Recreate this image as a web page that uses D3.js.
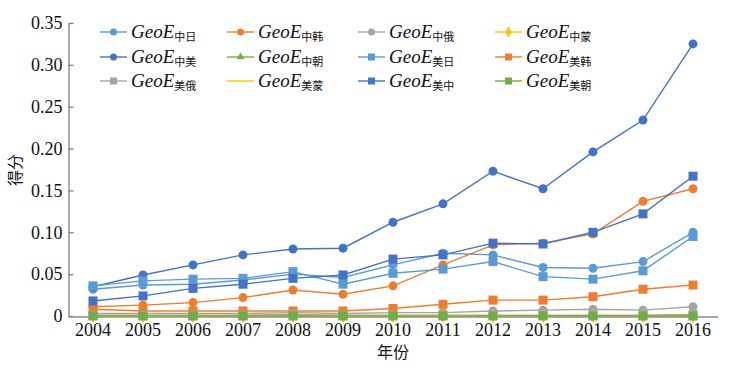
<!DOCTYPE html>
<html><head><meta charset="utf-8">
<script src="https://cdn.jsdelivr.net/npm/d3@7/dist/d3.min.js"></script>
<style>
body{margin:0;background:#fff;}
svg{display:block;}
</style></head>
<body>
<svg id="c" width="745" height="372"></svg>
<script>
const years = [2004,2005,2006,2007,2008,2009,2010,2011,2012,2013,2014,2015,2016];
const yTicks = [0,0.05,0.10,0.15,0.20,0.25,0.30,0.35];
const seriesNames = ["中日","中韩","中俄","中蒙","中美","中朝","美日","美韩","美俄","美蒙","美中","美朝"];
const v_中日 = [0.032,0.037,0.038,0.043,0.050,0.046,0.061,0.075,0.073,0.058,0.057,0.065,0.100];
const v_中韩 = [0.011,0.013,0.016,0.022,0.031,0.026,0.036,0.061,0.085,0.087,0.098,0.137,0.152];
const v_中俄 = [0.003,0.003,0.003,0.003,0.004,0.003,0.004,0.004,0.006,0.007,0.008,0.007,0.011];
const v_中蒙 = [0.000,0.000,0.000,0.000,0.000,0.000,0.000,0.000,0.000,0.000,0.000,0.000,0.000];
const v_中美 = [0.035,0.049,0.061,0.073,0.080,0.081,0.112,0.134,0.173,0.152,0.196,0.234,0.325];
const v_中朝 = [0.000,0.000,0.000,0.000,0.000,0.000,0.000,0.000,0.000,0.000,0.000,0.000,0.000];
const v_美日 = [0.036,0.042,0.044,0.045,0.053,0.038,0.051,0.056,0.065,0.047,0.044,0.054,0.095];
const v_美韩 = [0.008,0.006,0.006,0.006,0.006,0.006,0.009,0.014,0.019,0.019,0.023,0.032,0.037];
const v_美俄 = [0.001,0.001,0.001,0.001,0.002,0.001,0.001,0.001,0.001,0.001,0.001,0.001,0.002];
const v_美蒙 = [0.000,0.000,0.000,0.000,0.000,0.000,0.000,0.000,0.000,0.000,0.000,0.000,0.000];
const v_美中 = [0.018,0.024,0.033,0.038,0.045,0.049,0.068,0.073,0.087,0.086,0.100,0.122,0.167];
const v_美朝 = [0.000,0.000,0.000,0.000,0.000,0.000,0.000,0.000,0.000,0.000,0.000,0.000,0.000];
const seriesValues = [v_中日,v_中韩,v_中俄,v_中蒙,v_中美,v_中朝,v_美日,v_美韩,v_美俄,v_美蒙,v_美中,v_美朝];
const seriesColors = ["#5B9BD5","#ED7D31","#A5A5A5","#FFC000","#4472C4","#70AD47","#5B9BD5","#ED7D31","#A5A5A5","#FFC000","#4472C4","#70AD47"];
const seriesMarkers = ["circle","circle","circle","diamond","circle","triangle","square","square","square","none","square","square"];

const svg = d3.select("#c");
const x = d3.scaleBand().domain(years).range([68,718]).padding(0);
const cx = d => x(d) + x.bandwidth()/2;
const y = d3.scaleLinear().domain([0,0.35]).range([316,23]);

const serif = "Liberation Serif";
const cjk = "Noto Sans CJK SC";

// Y axis
const yAxis = svg.append("g").attr("transform","translate(68.5,0)")
  .call(d3.axisLeft(y).tickValues(yTicks).tickSizeInner(-5).tickSizeOuter(0).tickPadding(6)
    .tickFormat(d => d === 0 ? "0" : d3.format(".2f")(d)));
yAxis.attr("font-family",serif);
yAxis.select(".domain").attr("stroke","#7f7f7f").attr("stroke-width",1.3);
yAxis.selectAll(".tick line").attr("stroke","#7f7f7f").attr("stroke-width",1.3);
yAxis.selectAll(".tick text").style("font-family",serif).attr("font-size",18).attr("fill","#111");

// X axis
const xAxis = svg.append("g").attr("transform","translate(0,316.5)")
  .call(d3.axisBottom(x).tickSize(0).tickPadding(7));
xAxis.attr("font-family",serif);
xAxis.select(".domain").attr("stroke","#8c8c8c").attr("stroke-width",1.5);
xAxis.selectAll(".tick text").style("font-family",serif).attr("font-size",18).attr("fill","#111");

// axis titles
svg.append("text").attr("x",393).attr("y",358).attr("text-anchor","middle")
  .style("font-family",cjk).attr("font-size",16).attr("fill","#111").text("年份");
svg.append("text").attr("transform","translate(21,170) rotate(-90)").attr("text-anchor","middle")
  .style("font-family",cjk).attr("font-size",16).attr("fill","#111").text("得分");

function drawMarker(g, type, px, py, color, s){
  if(type==="circle") g.append("circle").attr("cx",px).attr("cy",py).attr("r",s/2).attr("fill",color);
  else if(type==="square") g.append("rect").attr("x",px-s/2).attr("y",py-s/2).attr("width",s).attr("height",s).attr("fill",color);
  else if(type==="diamond") g.append("path").attr("d",d3.symbol(d3.symbolDiamond, s*s*0.7)()).attr("transform",`translate(${px},${py})`).attr("fill",color);
  else if(type==="triangle") g.append("path").attr("d",d3.symbol(d3.symbolTriangle, s*s*0.55)()).attr("transform",`translate(${px},${py})`).attr("fill",color);
}

const line = d3.line().x((d,i)=>cx(years[i])).y(d=>y(d));
seriesValues.forEach((vals,si)=>{
  const g = svg.append("g");
  g.append("path").attr("d",line(vals)).attr("fill","none").attr("stroke",seriesColors[si]).attr("stroke-width",1.4);
  vals.forEach((v,i)=>drawMarker(g, seriesMarkers[si], cx(years[i]), y(v), seriesColors[si], 9));
});

// Legend
const colX = [100,227,358,495];
const rowY = [32,57,81];
seriesNames.forEach((name,i)=>{
  const r = Math.floor(i/4), c = i%4;
  const lx = colX[c], ly = rowY[r];
  const g = svg.append("g");
  g.append("line").attr("x1",lx).attr("x2",lx+27).attr("y1",ly).attr("y2",ly).attr("stroke",seriesColors[i]).attr("stroke-width",1.4);
  drawMarker(g, seriesMarkers[i], lx+13.5, ly, seriesColors[i], 7);
  const t = g.append("text").attr("x",lx+31).attr("y",ly+6).attr("fill","#111");
  t.append("tspan").style("font-family",serif).attr("font-style","italic").attr("font-size",19).text("GeoE");
  t.append("tspan").style("font-family",cjk).attr("font-size",11).attr("dy",3).text(name);
});
</script>
</body></html>
